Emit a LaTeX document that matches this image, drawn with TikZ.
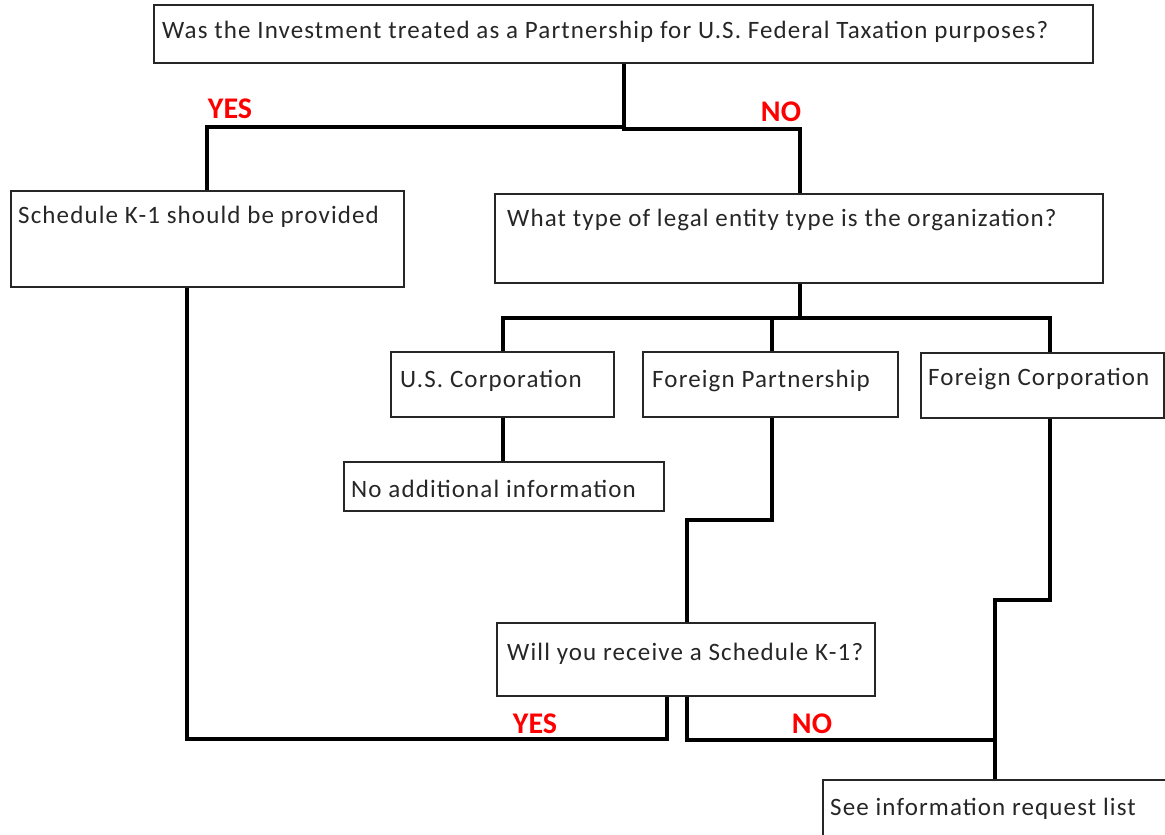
\documentclass[tikz,border=0pt]{standalone}
\usepackage{fontspec}
\setmainfont{Carlito}
\newfontfamily\boxfont[LetterSpace=4.5]{Carlito}
\begin{document}
\begin{tikzpicture}[x=1pt,y=-1pt,
  box/.style={draw=black!85,line width=1.5pt,rectangle,inner sep=0pt,anchor=north west},
  txt/.style={anchor=base west,inner sep=0pt,font=\boxfont\fontsize{25}{28}\selectfont,text=black!85},
  lbl/.style={anchor=base,inner sep=0pt,font=\fontsize{30}{32}\selectfont\bfseries,text=red},
  conn/.style={line width=4pt,line cap=butt,line join=miter}]
\useasboundingbox (0,0) rectangle (1165,835);
% boxes
\node[box,minimum width=939pt,minimum height=58pt] (q1) at (153,4) {};
\node[box,minimum width=393pt,minimum height=96pt] (k1) at (10,190) {};
\node[box,minimum width=608pt,minimum height=89pt] (q2) at (494,193) {};
\node[box,minimum width=223pt,minimum height=65pt] (usc) at (390,351) {};
\node[box,minimum width=255pt,minimum height=65pt] (fp) at (642,351) {};
\node[box,minimum width=243pt,minimum height=65pt] (fc) at (920,352) {};
\node[box,minimum width=320pt,minimum height=49pt] (na) at (343,461) {};
\node[box,minimum width=378pt,minimum height=73pt] (q3) at (496,622) {};
\node[box,minimum width=350pt,minimum height=70pt] (see) at (822,779) {};
% texts
\node[txt] (t1) at (162,38) {Was the Investment treated as a Partnership for U.S. Federal Taxation purposes?};
\node[txt] (t2) at (18,223) {Schedule K-1 should be provided};
\node[txt] (t3) at (507,226) {What type of legal entity type is the organization?};
\node[txt] (t4) at (400,387) {U.S. Corporation};
\node[txt] (t5) at (652,387) {Foreign Partnership};
\node[txt] (t6) at (928,385) {Foreign Corporation};
\node[txt] (t7) at (351,497) {No additional information};
\node[txt] (t8) at (507,660) {Will you receive a Schedule K-1?};
\node[txt] (t9) at (830,815) {See information request list};
% labels
\node[lbl] (y1) at (230,118) {YES};
\node[lbl] (n1) at (781,121) {NO};
\node[lbl] (y2) at (535,733) {YES};
\node[lbl] (n2) at (812,733) {NO};
% junction coordinates
\coordinate (j1) at (624,127);
\coordinate (j2) at (800,318);
\coordinate (j3) at (995,740);
% connectors
\draw[conn] (q1.south -| j1) -- (j1) -| (k1.north -| 207,0);
\draw[conn] (j1) -- ++(0,2) -| (q2.north -| 800,0);
\draw[conn] (q2.south -| j2) -- (j2) -| (usc.north -| 503,0);
\draw[conn] (j2) -| (fc.north -| 1050,0);
\draw[conn] (fp.north -| 772,0) -- (772,318);
\draw[conn] (usc.south -| 503,0) -- (na.north -| 503,0);
\draw[conn] (fp.south -| 772,0) -- (772,520) -| (q3.north -| 687,0);
\draw[conn] (fc.south -| 1050,0) -- (1050,600) -| (see.north -| 995,0);
\draw[conn] (k1.south -| 187,0) -- (187,739) -| (q3.south -| 667,0);
\draw[conn] (q3.south -| 687,0) -- (687,740) -- (j3);
\end{tikzpicture}
\end{document}
